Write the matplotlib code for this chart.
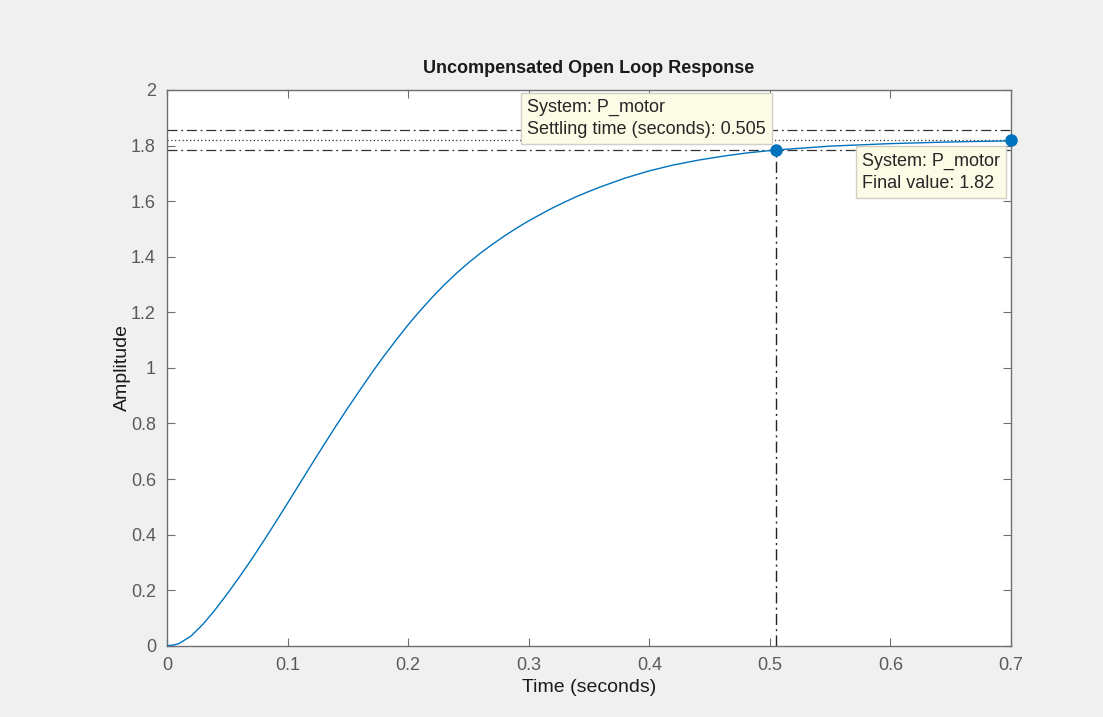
import matplotlib
matplotlib.use('Agg')
import matplotlib.pyplot as plt

t = [0.0, 0.005, 0.01, 0.02, 0.03, 0.04, 0.05, 0.06, 0.07, 0.08, 0.09,
     0.10, 0.11, 0.12, 0.13, 0.14, 0.15, 0.16, 0.17, 0.18, 0.19,
     0.20, 0.21, 0.22, 0.23, 0.24, 0.25, 0.26, 0.27, 0.28, 0.29,
     0.30, 0.31, 0.32, 0.33, 0.34, 0.35, 0.36, 0.38, 0.40, 0.42, 0.44,
     0.46, 0.48, 0.50, 0.505, 0.55, 0.60, 0.65, 0.70]
amp = [0.0, 0.002, 0.008, 0.035, 0.078, 0.13, 0.187, 0.247, 0.31, 0.376, 0.444,
       0.513, 0.583, 0.653, 0.722, 0.79, 0.856, 0.92, 0.983, 1.043, 1.10,
       1.155, 1.206, 1.254, 1.299, 1.34, 1.378, 1.413, 1.445, 1.475, 1.503,
       1.529, 1.553, 1.576, 1.597, 1.617, 1.635, 1.652, 1.683, 1.709, 1.73, 1.747,
       1.761, 1.773, 1.782, 1.784, 1.798, 1.807, 1.813, 1.817]

settling_time = 0.505
settling_amp = 1.784
final_value = 1.82
t_end = 0.7

xticks = [0, 0.1, 0.2, 0.3, 0.4, 0.5, 0.6, 0.7]
yticks = [0, 0.2, 0.4, 0.6, 0.8, 1, 1.2, 1.4, 1.6, 1.8, 2]

plt.rcParams['font.family'] = ['Liberation Sans', 'DejaVu Sans']

blue = '#0072BD'
axcol = '#6f6f6f'
dashdot = (0, (8, 3, 1.5, 3))

fig = plt.figure(figsize=(11.03, 7.17), dpi=100, facecolor='#f0f0f0')
ax = fig.add_axes([0.1514, 0.0994, 0.7652, 0.7751])
ax.set_facecolor('white')

ax.plot(t, amp, color=blue, lw=1.0, zorder=3)

# settling band (+/-2%) and final value
ax.axhline(final_value * 1.02, color='#333333', lw=0.9, ls=dashdot, zorder=2)
ax.axhline(final_value * 0.98, color='#333333', lw=0.9, ls=dashdot, zorder=2)
ax.axhline(final_value, color='#333333', lw=0.9, ls=(0, (1, 2)), zorder=2)
ax.plot([settling_time, settling_time], [0, settling_amp], color='#222222', lw=1.0,
        ls=dashdot, zorder=2)

ax.plot([settling_time], [settling_amp], 'o', color=blue, ms=8, zorder=5, clip_on=False)
ax.plot([t_end], [final_value], 'o', color=blue, ms=8, zorder=5, clip_on=False)

tip = dict(boxstyle='square,pad=0.35', fc='#fbfbe6', ec='#cfcfc6', lw=1.0)
ax.annotate('System: P_motor\nSettling time (seconds): %.3f' % settling_time,
            xy=(settling_time, settling_amp), xytext=(-10, 12), textcoords='offset pixels',
            ha='right', va='bottom', multialignment='left', fontsize=13,
            color='#262626', bbox=tip, linespacing=1.35, zorder=6,
            annotation_clip=False)
ax.annotate('System: P_motor\nFinal value: %.2f' % final_value,
            xy=(t_end, final_value), xytext=(-149, -13), textcoords='offset pixels',
            ha='left', va='top', multialignment='left', fontsize=13,
            color='#262626', bbox=tip, linespacing=1.35, zorder=6,
            annotation_clip=False)

ax.set_xlim(0, t_end)
ax.set_ylim(0, 2)
ax.set_xticks(xticks)
ax.set_xticklabels(['0', '0.1', '0.2', '0.3', '0.4', '0.5', '0.6', '0.7'])
ax.set_yticks(yticks)
ax.set_yticklabels(['0', '0.2', '0.4', '0.6', '0.8', '1', '1.2', '1.4', '1.6', '1.8', '2'])
ax.tick_params(direction='in', top=True, right=True, length=6, width=0.8,
               colors=axcol, labelcolor='#5a5a5a', labelsize=13, pad=8)
for s in ax.spines.values():
    s.set_color(axcol)
    s.set_linewidth(1.0)

ax.set_title('Uncompensated Open Loop Response', fontsize=13, fontweight='bold',
             color='#1a1a1a', pad=12)
ax.set_xlabel('Time (seconds)', fontsize=14, color='#1a1a1a', labelpad=4)
ax.set_ylabel('Amplitude', fontsize=14, color='#1a1a1a', labelpad=0)

fig.savefig('out.png', dpi=100, facecolor=fig.get_facecolor())
